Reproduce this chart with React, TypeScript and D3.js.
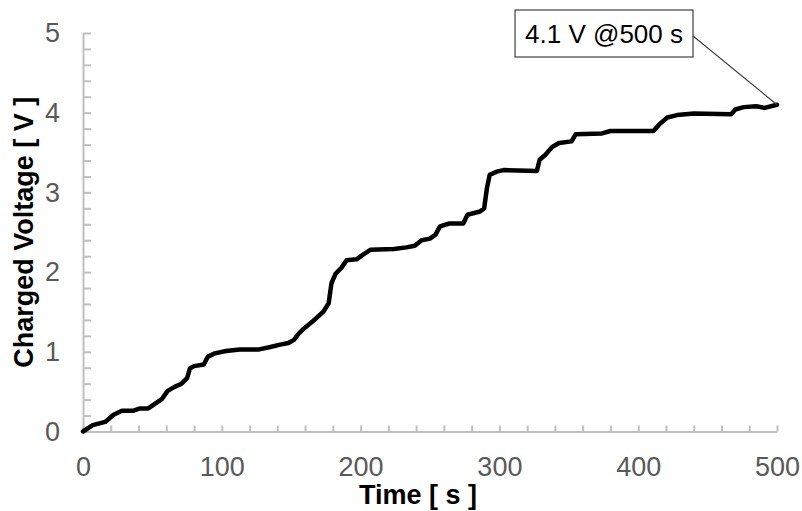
import { useEffect, useRef } from "react";
import * as d3 from "d3";

// readings
const times = [
  0, 7, 16, 22, 28, 36, 41, 47, 52, 57, 61, 66, 71, 75, 77, 80, 87, 90, 95, 103,
  113, 127, 135, 142, 148, 152, 155, 159, 166, 173, 177, 179, 182, 186, 190, 197,
  201, 207, 224, 233, 239, 244, 250, 254, 257, 260, 264, 274, 277, 286, 289, 291,
  293, 298, 303, 327, 329, 333, 338, 343, 352, 355, 374, 380, 411, 415, 421, 428,
  440, 467, 470, 476, 485, 491, 500,
];
const volts = [
  0, 0.08, 0.12, 0.21, 0.26, 0.26, 0.29, 0.29, 0.35, 0.41, 0.51, 0.56, 0.6, 0.67,
  0.79, 0.82, 0.84, 0.94, 0.98, 1.01, 1.03, 1.03, 1.06, 1.09, 1.11, 1.15, 1.22,
  1.29, 1.39, 1.5, 1.61, 1.86, 1.98, 2.05, 2.15, 2.16, 2.21, 2.28, 2.29, 2.31,
  2.33, 2.4, 2.42, 2.47, 2.57, 2.59, 2.61, 2.61, 2.72, 2.76, 2.8, 3.05, 3.22,
  3.26, 3.28, 3.27, 3.41, 3.47, 3.57, 3.62, 3.64, 3.73, 3.74, 3.77, 3.77, 3.85,
  3.94, 3.97, 3.99, 3.98, 4.04, 4.07, 4.08, 4.06, 4.1,
];

const xMajorTicks = [0, 100, 200, 300, 400, 500];
const yMajorTicks = [0, 1, 2, 3, 4, 5];

const annotText = "4.1 V @500 s";
const annotTime = 500;
const annotVolt = 4.1;

const FONT = "Arial, 'Liberation Sans', sans-serif";

export default function App() {
  const ref = useRef<SVGSVGElement>(null);

  useEffect(() => {
    const svg = d3.select(ref.current);
    svg.selectAll("*").remove();

    const margin = { left: 83, top: 33, right: 25, bottom: 79.5 };
    const width = 802;
    const height = 511;

    const x = d3
      .scaleLinear()
      .domain([0, 500])
      .range([margin.left, width - margin.right]);
    const y = d3
      .scaleLinear()
      .domain([0, 5])
      .range([height - margin.bottom, margin.top]);

    const axisColor = "#bfbfbf";
    const labelColor = "#595959";

    // y axis: minor ticks every 0.2 pointing inward
    const yAxis = d3
      .axisLeft(y)
      .tickValues(d3.range(0, 5.001, 0.2))
      .tickSize(-8)
      .tickSizeOuter(0)
      .tickPadding(23)
      .tickFormat((d) =>
        yMajorTicks.includes(Math.round(+d * 1000) / 1000) ? String(Math.round(+d)) : ""
      );
    const gy = svg
      .append("g")
      .attr("transform", `translate(${margin.left},0)`)
      .call(yAxis);

    // x axis: ticks every 20 s pointing up
    const xAxis = d3
      .axisBottom(x)
      .tickValues(d3.range(0, 501, 20))
      .tickSize(-6)
      .tickSizeOuter(0)
      .tickPadding(25)
      .tickFormat((d) => (xMajorTicks.includes(+d) ? String(d) : ""));
    const gx = svg
      .append("g")
      .attr("transform", `translate(0,${y(0)})`)
      .call(xAxis);

    [gx, gy].forEach((g) => {
      g.select(".domain").attr("stroke", axisColor).attr("stroke-width", 2);
      g.selectAll(".tick line").attr("stroke", axisColor).attr("stroke-width", 2);
      g.selectAll(".tick text")
        .attr("fill", labelColor)
        .style("font-family", FONT)
        .style("font-size", "27px");
    });

    // curve
    const line = d3
      .line<number>()
      .x((d) => x(d))
      .y((_, i) => y(volts[i]));
    svg
      .append("path")
      .datum(times)
      .attr("d", line)
      .attr("fill", "none")
      .attr("stroke", "#000")
      .attr("stroke-width", 4.5)
      .attr("stroke-linejoin", "round")
      .attr("stroke-linecap", "round");

    // axis titles
    svg
      .append("text")
      .attr("x", 418)
      .attr("y", 504)
      .attr("text-anchor", "middle")
      .style("font-family", FONT)
      .style("font-weight", "bold")
      .style("font-size", "27px")
      .text("Time [ s ]");

    svg
      .append("text")
      .attr("transform", `translate(33,${(y(0) + y(5)) / 2}) rotate(-90)`)
      .attr("text-anchor", "middle")
      .style("font-family", FONT)
      .style("font-weight", "bold")
      .style("font-size", "27px")
      .text("Charged Voltage [ V ]");

    // callout
    const boxRight = 693;
    const boxTop = 10;
    const boxH = 47;
    const box = svg.append("rect");
    const label = svg
      .append("text")
      .attr("x", boxRight - 10)
      .attr("y", boxTop + boxH / 2)
      .attr("dy", "0.35em")
      .attr("text-anchor", "end")
      .attr("fill", "#000")
      .style("font-family", FONT)
      .style("font-size", "26px")
      .text(annotText);
    const tw = (label.node() as SVGTextElement).getComputedTextLength();
    box
      .attr("x", boxRight - tw - 20)
      .attr("y", boxTop)
      .attr("width", tw + 20)
      .attr("height", boxH)
      .attr("fill", "#fff")
      .attr("stroke", "#404040")
      .attr("stroke-width", 1.2);
    svg
      .append("line")
      .attr("x1", boxRight)
      .attr("y1", boxTop + 26)
      .attr("x2", x(annotTime))
      .attr("y2", y(annotVolt))
      .attr("stroke", "#404040")
      .attr("stroke-width", 1.2);
  }, []);

  return (
    <svg
      ref={ref}
      width={802}
      height={511}
      style={{ position: "absolute", left: 0, top: 0, background: "#fff" }}
    />
  );
}
